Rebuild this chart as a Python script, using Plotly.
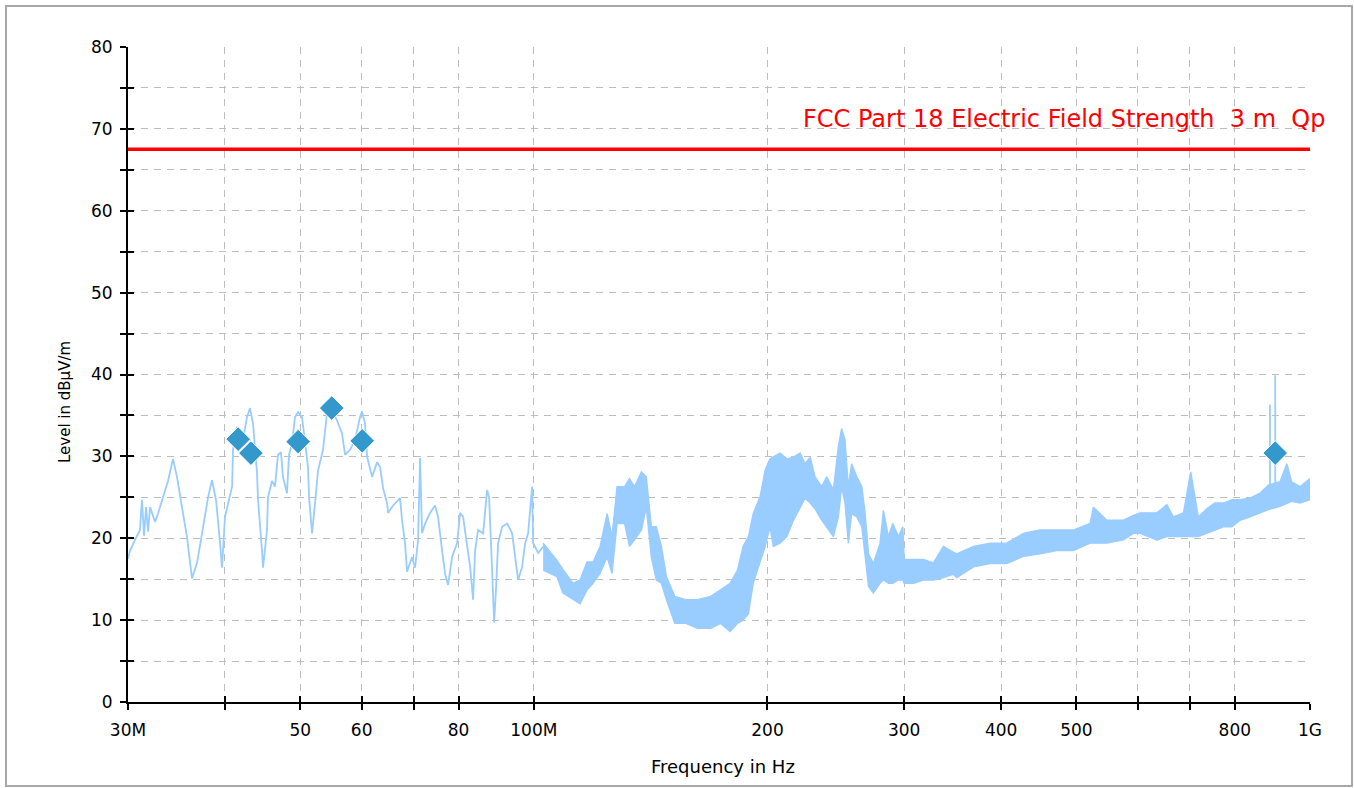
import plotly.graph_objects as go

# ---------------- data (frequencies in MHz, levels in dBµV/m) ----------------
freq_thin = [30.0, 30.18, 30.63, 31.08, 31.27, 31.46, 31.65, 31.84, 32.03, 32.5,
             32.79, 33.78, 34.28, 34.69, 35.21, 35.74, 36.27, 36.82, 37.37, 38.04,
             38.49, 38.95, 39.42, 39.65, 40.0, 40.85, 40.97, 41.45, 42.2, 42.7,
             43.08, 43.47, 43.99, 44.12, 44.64, 44.78, 45.31, 45.44, 45.99, 46.4,
             46.81, 47.23, 47.51, 48.08, 48.37, 48.8, 49.23, 49.68, 50.27, 50.72,
             51.17, 51.33, 51.79, 52.25, 52.72, 53.5, 54.14, 54.63, 55.77, 56.61,
             57.11, 57.97, 58.83, 59.71, 60.07, 60.61, 60.97, 61.88, 62.81, 63.37,
             63.94, 64.7, 64.89, 65.86, 67.24, 67.64, 68.24, 68.65, 69.68, 70.3,
             70.93, 71.35, 71.78, 72.42, 73.5, 74.6, 75.27, 76.17, 76.85, 77.54,
             78.46, 79.64, 80.35, 81.07, 82.04, 82.77, 83.51, 84.01, 84.76, 86.03,
             87.05, 87.57, 88.36, 88.88, 89.41, 89.94, 91.02, 92.38, 93.76, 94.6,
             95.45, 96.58, 97.45, 98.32, 99.49, 99.79, 101.3, 102.8]
level_thin = [17.5, 18.5, 19.8, 21.0, 24.7, 20.3, 23.8, 20.8, 23.8, 22.0,
              23.0, 27.0, 29.7, 27.5, 23.8, 20.1, 15.1, 17.0, 20.6, 25.0,
              27.1, 24.7, 19.4, 16.4, 22.6, 26.3, 30.8, 33.6, 32.0, 34.8,
              35.9, 34.0, 28.0, 24.7, 18.5, 16.4, 21.0, 25.0, 27.0, 26.3,
              30.2, 30.5, 27.5, 25.5, 30.2, 31.6, 34.8, 35.4, 34.8, 32.0,
              28.7, 25.0, 20.6, 24.3, 28.3, 30.8, 35.3, 36.0, 34.4, 32.8,
              30.2, 30.8, 32.0, 34.8, 35.5, 34.0, 30.0, 27.5, 29.3, 28.7,
              26.1, 24.3, 23.1, 24.0, 24.9, 22.2, 19.4, 15.9, 17.7, 16.4,
              19.8, 29.8, 20.6, 21.8, 23.1, 24.0, 22.6, 18.5, 15.7, 14.3,
              17.7, 19.4, 23.1, 22.6, 19.4, 16.5, 12.5, 18.5, 21.0, 20.6,
              25.9, 25.0, 16.1, 9.7, 14.0, 19.4, 21.4, 21.8, 20.6, 17.7,
              14.9, 16.5, 19.4, 20.6, 26.3, 19.4, 18.2, 19.0]

freq_band = [102.8, 107.1, 109.0, 112.3, 114.7, 117.1, 119.2, 121.7, 124.3, 126.1,
             128.0, 130.9, 132.8, 134.8, 137.6, 139.6, 141.7, 143.8, 146.0, 148.2,
             151.9, 157.0, 162.4, 169.0, 174.0, 179.0, 183.0, 186.0, 189.0, 191.7,
             195.7, 198.6, 201.5, 203.5, 207.6, 211.8, 216.0, 220.3, 223.6, 227.0,
             230.3, 234.9, 238.4, 243.2, 246.8, 249.2, 251.7, 254.2, 256.7, 260.7,
             264.6, 267.2, 269.9, 273.8, 279.3, 282.1, 286.3, 290.0, 294.9, 298.8,
             300.0, 308.5, 317.6, 327.2, 337.0, 347.0, 350.6, 368.5, 387.1, 406.8,
             427.3, 449.0, 471.8, 495.6, 520.8, 526.0, 547.2, 574.9, 592.3, 604.0,
             634.9, 654.0, 666.9, 687.0, 702.0, 718.0, 736.0, 754.6, 773.5, 793.0,
             812.7, 837.0, 862.0, 884.0, 915.0, 933.6, 947.0, 971.0, 1000.0]
band_low = [16.1, 15.3, 13.3, 12.5, 12.0, 13.7, 14.5, 15.7, 17.7, 15.7,
            21.8, 21.8, 19.0, 19.8, 21.0, 23.8, 17.7, 14.9, 14.5, 12.5,
            9.6, 9.6, 9.0, 9.0, 9.6, 8.6, 9.6, 10.0, 10.8, 14.5,
            17.3, 19.0, 21.4, 19.0, 19.4, 20.2, 22.2, 23.8, 24.9, 24.3,
            23.6, 22.2, 21.4, 20.2, 22.6, 26.3, 24.3, 19.4, 23.0, 22.6,
            21.4, 18.1, 14.1, 13.3, 14.5, 14.9, 14.5, 14.5, 14.9, 14.9,
            14.5, 14.5, 14.9, 14.9, 15.2, 15.6, 15.2, 16.5, 16.9, 16.9,
            17.8, 18.1, 18.5, 18.5, 19.4, 19.4, 19.4, 19.8, 20.6, 20.6,
            19.8, 20.2, 20.2, 20.2, 20.2, 20.2, 20.6, 21.0, 21.4, 21.4,
            22.2, 22.6, 23.1, 23.5, 23.9, 24.3, 24.5, 24.3, 24.7]
band_high = [19.4, 17.3, 16.2, 14.5, 14.9, 17.1, 17.1, 19.0, 23.0, 20.2,
             26.3, 26.3, 27.3, 26.3, 28.1, 27.5, 21.4, 21.4, 19.0, 15.3,
             12.9, 12.5, 12.5, 12.9, 13.7, 14.5, 16.1, 19.0, 20.2, 23.0,
             25.1, 28.3, 29.7, 29.9, 30.4, 29.7, 29.9, 30.4, 29.1, 29.9,
             27.5, 26.3, 27.5, 25.9, 31.2, 33.4, 32.0, 26.3, 29.1, 27.5,
             26.3, 23.0, 18.1, 16.9, 19.4, 23.4, 20.2, 21.8, 20.2, 21.4,
             17.4, 17.4, 17.4, 17.0, 19.0, 18.3, 18.1, 19.0, 19.4, 19.4,
             20.6, 21.0, 21.0, 21.0, 21.8, 23.8, 22.2, 22.2, 22.8, 23.1,
             23.1, 24.1, 22.6, 23.1, 28.1, 22.6, 23.6, 24.3, 24.3, 24.7,
             24.7, 24.9, 25.5, 26.5, 26.9, 29.1, 26.9, 26.3, 27.3]

spike_freq = [888.0, 902.0]
spike_base = [25.5, 25.5]
spike_top = [36.3, 39.9]

marker_freq = [41.6, 43.2, 49.7, 54.9, 60.1, 902.0]
marker_level = [32.1, 30.4, 31.8, 35.9, 31.9, 30.4]

limit_freq = [30.0, 1000.0]
limit_level = [67.5, 67.5]
limit_name = "FCC Part 18 Electric Field Strength  3 m  Qp"

x_tick_vals = [30, 40, 50, 60, 70, 80, 100, 200, 300, 400, 500, 600, 700, 800, 1000]
x_tick_text = ["30M", "", "50", "60", "", "80", "100M", "200", "300", "400", "500", "", "", "800", "1G"]
y_tick_vals = [0, 5, 10, 15, 20, 25, 30, 35, 40, 45, 50, 55, 60, 65, 70, 75, 80]
y_tick_text = ["0", "", "10", "", "20", "", "30", "", "40", "", "50", "", "60", "", "70", "", "80"]

# ---------------- styling ----------------
FONT = "DejaVu Sans"
TRACE_COLOR = "#99CCFF"
MARKER_COLOR = "#3399CC"
GRID_COLOR = "#BDBDBD"

W, H = 1354, 788
L, R, T, B = 128, 44, 47, 86
PW, PH = W - L - R, H - T - B


def px_x(p):
    return (p - L) / PW


def px_y(p):
    return (H - B - p) / PH


fig = go.Figure()

# noisy band (lower edge then upper edge filled to it)
fig.add_trace(go.Scatter(x=freq_band, y=band_low, mode="lines",
                         line=dict(color=TRACE_COLOR, width=1.4),
                         hoverinfo="skip", showlegend=False))
fig.add_trace(go.Scatter(x=freq_band, y=band_high, mode="lines",
                         line=dict(color=TRACE_COLOR, width=1.4),
                         fill="tonexty", fillcolor=TRACE_COLOR,
                         hoverinfo="skip", showlegend=False))

# thin part of the spectrum
fig.add_trace(go.Scatter(x=freq_thin, y=level_thin, mode="lines",
                         line=dict(color=TRACE_COLOR, width=1.8),
                         showlegend=False))

# narrow spikes
sx, sy = [], []
for f, b0, t0 in zip(spike_freq, spike_base, spike_top):
    sx += [f, f, None]
    sy += [b0, t0, None]
fig.add_trace(go.Scatter(x=sx, y=sy, mode="lines",
                         line=dict(color=TRACE_COLOR, width=1.8),
                         showlegend=False))

# limit line
fig.add_trace(go.Scatter(x=limit_freq, y=limit_level, mode="lines",
                         line=dict(color="#FF0000", width=3.5),
                         showlegend=False))

# final measurement markers
fig.add_trace(go.Scatter(x=marker_freq, y=marker_level, mode="markers",
                         marker=dict(symbol="diamond", size=19, color=MARKER_COLOR,
                                     line=dict(color="white", width=1)),
                         showlegend=False))

# helper trace for the overlay axes (inner halves of crossing ticks)
fig.add_trace(go.Scatter(x=[30, 1000], y=[0, 80], mode="markers",
                         marker=dict(opacity=0), xaxis="x2", yaxis="y2",
                         hoverinfo="skip", showlegend=False))

common_axis = dict(showline=True, linecolor="black", linewidth=2,
                   ticks="outside", ticklen=6, tickwidth=2, tickcolor="black",
                   zeroline=False, showgrid=True, gridcolor=GRID_COLOR,
                   gridwidth=1, griddash="7px,6px",
                   tickfont=dict(family=FONT, size=17, color="black"))

fig.update_layout(
    width=W, height=H,
    margin=dict(l=L, r=R, t=T, b=B),
    paper_bgcolor="white", plot_bgcolor="white",
    showlegend=False,
    xaxis=dict(type="log", range=[1.47712, 3.0], tickmode="array",
               tickvals=x_tick_vals, ticktext=x_tick_text,
               ticklabelstandoff=6, **common_axis),
    yaxis=dict(range=[0, 80], tickmode="array",
               tickvals=y_tick_vals, ticktext=y_tick_text,
               ticklabelstandoff=4, **common_axis),
    xaxis2=dict(type="log", range=[1.47712, 3.0], overlaying="x",
                tickmode="array", tickvals=x_tick_vals, showticklabels=False,
                ticks="inside", ticklen=6, tickwidth=2, tickcolor="black",
                showgrid=False, zeroline=False, showline=False, anchor="y2"),
    yaxis2=dict(range=[0, 80], overlaying="y", tickmode="array",
                tickvals=y_tick_vals, showticklabels=False,
                ticks="inside", ticklen=6, tickwidth=2, tickcolor="black",
                showgrid=False, zeroline=False, showline=False, anchor="x2"),
    font=dict(family=FONT, color="black"),
)

# axis titles
fig.add_annotation(text="Frequency in Hz", xref="paper", yref="paper",
                   x=px_x(723), y=px_y(766), showarrow=False,
                   font=dict(family=FONT, size=18, color="black"),
                   xanchor="center", yanchor="middle")
fig.add_annotation(text="Level in dBµV/m", xref="paper", yref="paper",
                   x=px_x(65), y=px_y(402), showarrow=False, textangle=-90,
                   font=dict(family=FONT, size=15, color="black"),
                   xanchor="center", yanchor="middle")

# limit label
fig.add_annotation(text=limit_name, xref="paper", yref="y",
                   x=px_x(1327), y=71.2, showarrow=False,
                   font=dict(family=FONT, size=24, color="#FF0000"),
                   xanchor="right", yanchor="middle")

# outer frame
fig.add_shape(type="rect", xref="paper", yref="paper",
              x0=px_x(6), x1=px_x(1352), y0=px_y(786), y1=px_y(6),
              line=dict(color="#A8A8A8", width=2), layer="below")

fig.write_html("out.html",
               config={"displayModeBar": False},
               post_script="document.body.style.margin='0';document.body.style.overflow='hidden';")
